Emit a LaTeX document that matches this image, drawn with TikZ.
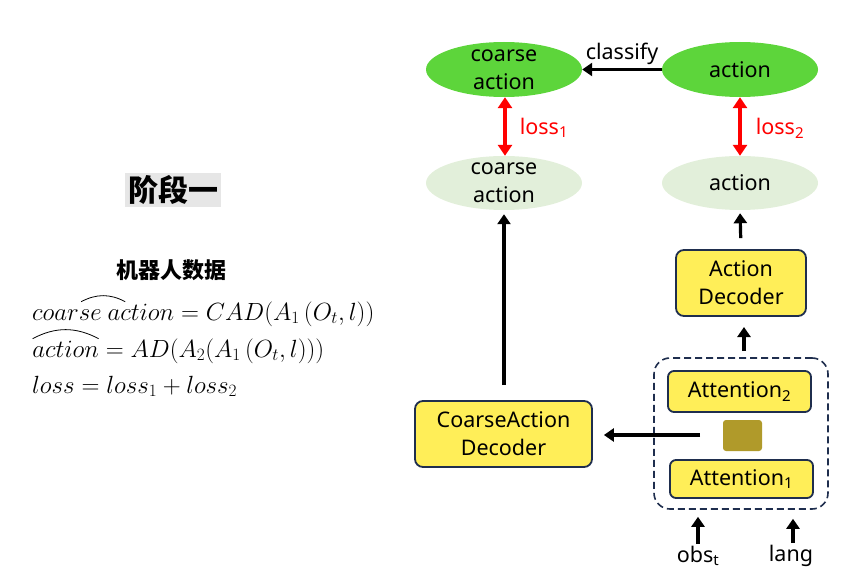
\documentclass[tikz,border=0pt]{standalone}
\usepackage{fontspec}
\setmainfont{Noto Sans}
\newfontfamily\cjk{Noto Sans CJK SC}
\usetikzlibrary{arrows.meta,shapes.geometric}
\definecolor{greenA}{HTML}{5DD53B}
\definecolor{greenL}{HTML}{E2EFDA}
\definecolor{yel}{HTML}{FFEE58}
\definecolor{navy}{HTML}{1F2E4E}
\definecolor{olivebox}{HTML}{B09A2A}
\definecolor{graybg}{HTML}{E6E6E6}
\definecolor{lossred}{HTML}{FF0000}
\newcommand\arcacc[2]{\tikz[baseline=(q.base)]{\node[inner sep=0pt,outer sep=0pt] (q) {$#1$};
  \draw[line width=0.8pt] ([xshift=-#2pt,yshift=2pt]q.north) to[bend left=28] ([xshift=#2pt,yshift=2pt]q.north);}}
\begin{document}
\begin{tikzpicture}[x=1pt,y=1pt,
  ellG/.style={ellipse, fill=greenA, minimum width=156pt, minimum height=55pt, inner sep=0pt},
  ellL/.style={ellipse, fill=greenL, minimum width=156pt, minimum height=54pt, inner sep=0pt},
  lbl/.style={font=\fontsize{21.5}{28}\selectfont, align=center, inner sep=0pt},
  ybox/.style={draw=navy, line width=1.8pt, fill=yel, rounded corners=8pt, align=center,
     font=\fontsize{21.5}{28}\selectfont, inner sep=0pt},
  arr/.style={line width=3.2pt, -{Triangle[length=10pt,width=13pt]}},
  redarr/.style={draw=lossred, line width=3.2pt, {Triangle[length=11pt,width=14pt]}-{Triangle[length=11pt,width=14pt]}},
  eq/.style={font=\fontsize{23}{28}\selectfont, inner sep=0pt, anchor=base west},
  redlbl/.style={text=lossred, font=\fontsize{21.5}{24}\selectfont, inner sep=0pt}
]
\useasboundingbox (0,0) rectangle (855,-583);

% left side texts
\node[fill=graybg, minimum width=96pt, minimum height=34pt, inner sep=0pt,
      font=\cjk\bfseries\fontsize{30}{34}\selectfont] (title) at (173,-190) {阶段一};
\node[font=\cjk\bfseries\fontsize{22}{26}\selectfont, inner sep=0pt] (robot) at (171,-270) {机器人数据};
\node[eq] (e1) at (32,-320) {$\arcacc{coarse\ action}{22} = CAD(A_1\,(O_t,l))$};
\node[eq] (e2) at (32,-357) {$\arcacc{action}{33} = AD(A_2(A_1\,(O_t,l)))$};
\node[eq] (e3) at (32,-393) {$loss = loss_1 + loss_2$};

% top ellipses
\node[ellG] (cg) at (504,-69.5) {};
\node[lbl] (cgt) at (cg) {coarse\\action};
\node[ellG] (ag) at (740,-69.5) {};
\node[lbl] (agt) at (ag) {action};
\node[ellL] (cl) at (504,-183) {};
\node[lbl] (clt) at (cl) {coarse\\action};
\node[ellL] (al) at (740,-183) {};
\node[lbl] (alt) at (al) {action};

\draw[arr] (ag.west) -- (cg.east) node[midway, above=3pt, font=\fontsize{21.5}{24}\selectfont, inner sep=0pt] (cls) {classify};

\draw[redarr] ([xshift=1pt]cg.south) -- ([xshift=1pt]cl.north);
\draw[redarr] (ag.south) -- (al.north);
\node[redlbl] (l1) at (544,-128) {loss\textsubscript{1}};
\node[redlbl] (l2) at (780,-128) {loss\textsubscript{2}};

% boxes
\node[ybox, minimum width=177pt, minimum height=66pt] (cad) at (503.5,-434) {CoarseAction\\Decoder};
\node[ybox, minimum width=130pt, minimum height=66pt] (ad) at (741,-283) {Action\\Decoder};
\node[draw=navy, line width=1.6pt, dash pattern=on 7pt off 4pt, rounded corners=16pt,
      minimum width=174pt, minimum height=151pt, inner sep=0pt] (dash) at (741,-433.5) {};
\node[ybox, minimum width=143pt, minimum height=41pt, rounded corners=6pt] (att2) at (739.5,-391.5) {Attention\textsubscript{2}};
\node[ybox, minimum width=143pt, minimum height=38pt, rounded corners=6pt] (att1) at (741.5,-479) {Attention\textsubscript{1}};
\node[fill=olivebox, rounded corners=3pt, minimum width=39pt, minimum height=31pt, inner sep=0pt] (sq) at (742.5,-435.5) {};

% connectors
\coordinate (vstart) at (504,-385);
\draw[arr, shorten >=4pt] (vstart) -- (cl.south);
\draw[arr, shorten <=11pt, shorten >=3pt] (ad.north) -- (al.south);
\coordinate (dtop) at (744,-351);
\coordinate (adbot) at (744,-327);
\draw[arr] (dtop) -- (adbot);
\coordinate (cadstart) at (700,-435);
\draw[arr, shorten >=11pt] (cadstart) -- (cadstart -| cad.east);

\node[font=\fontsize{21.5}{24}\selectfont, inner sep=0pt] (obs) at (698,-556) {obs\textsubscript{t}};
\node[font=\fontsize{21.5}{24}\selectfont, inner sep=0pt] (lang) at (791,-556) {lang};
\draw[arr, shorten >=9pt] ([yshift=2pt]obs.north) -- ([yshift=2pt]obs.north |- dash.south);
\draw[arr, shorten >=9pt] ([xshift=2pt,yshift=2pt]lang.north) -- ([xshift=2pt]lang.north |- dash.south);
\end{tikzpicture}
\end{document}
